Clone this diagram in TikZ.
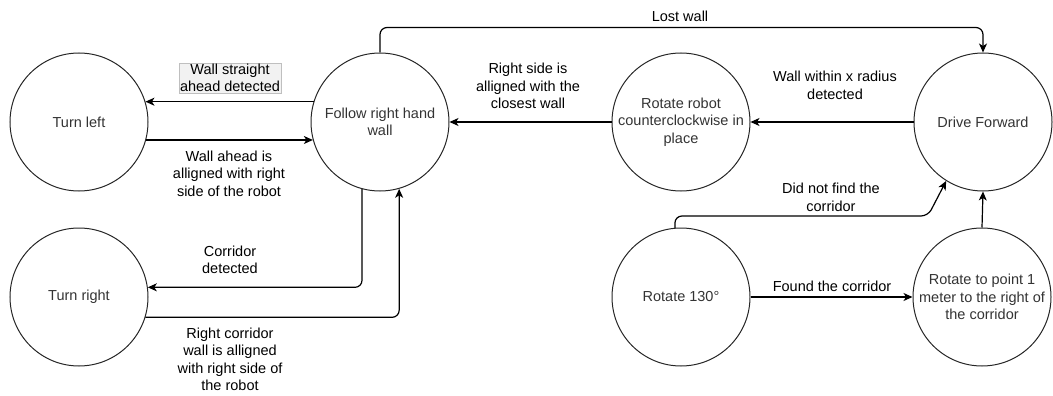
\documentclass[tikz,border=0pt]{standalone}
\usepackage{fontspec}
\setmainfont{Liberation Sans}
\usetikzlibrary{arrows.meta}
\begin{document}
\begin{tikzpicture}[x=1pt,y=-1pt,
  state/.style={circle,draw=black!85,line width=1pt,minimum size=138pt,inner sep=0pt,align=center,text=black!80,font=\fontsize{14.5}{17.5}\selectfont},
  lbl/.style={align=center,inner sep=1pt,font=\fontsize{14.5}{17.5}\selectfont},
  hl/.style={fill=black!5,draw=black!25,line width=0.6pt},
  conn/.style={line width=1.2pt,-{Stealth[length=9pt,width=8pt,inset=2.5pt]},rounded corners=7pt}]
\useasboundingbox (0,0) rectangle (1053,396);

\node[state] (TL) at (79,122) {Turn left};
\node[state] (FR) at (380,122) {Follow right hand\\wall};
\node[state] (RR) at (681,122) {Rotate robot\\counterclockwise in\\place};
\node[state] (DF) at (983,122) {Drive Forward};
\node[state] (TR) at (79,297) {Turn right};
\node[state] (R130) at (681,297) {Rotate 130°};
\node[state] (RP) at (982,297) {Rotate to point 1\\meter to the right of\\the corridor};

\draw[conn] (FR.163) -- (TL.17);
\draw[conn] (TL.-15) -- (FR.195);
\draw[conn] (FR.255) |- (TR.8);
\draw[conn] (TR.-17) -| (FR.286);
\draw[conn] (FR.north) -- ++(0,-25) -| (DF.north);
\draw[conn] (RR.west) -- (FR.east);
\draw[conn] (DF.west) -- (RR.east);
\draw[conn] (R130.east) -- (RP.west);
\draw[conn] (RP.north) -- (DF.south);
\coordinate (bend) at (928,216);
\draw[conn] (R130.95) |- (bend) -- (DF.238);

\node[lbl,hl] (l1) at (230,78) {Wall straight\\ahead detected};
\node[lbl] (l2) at (229,173.5) {Wall ahead is\\alligned with right\\side of the robot};
\node[lbl] (l3) at (230,260) {Corridor\\detected};
\node[lbl] (l4) at (230,359.5) {Right corridor\\wall is alligned\\with right side of\\the robot};
\node[lbl] (l5) at (680,16) {Lost wall};
\node[lbl] (l6) at (528,86) {Right side is\\alligned with the\\closest wall};
\node[lbl] (l7) at (835,85.5) {Wall within x radius\\detected};
\node[lbl] (l8) at (831,197.5) {Did not find the\\corridor};
\node[lbl] (l9) at (832,286) {Found the corridor};
\end{tikzpicture}
\end{document}
